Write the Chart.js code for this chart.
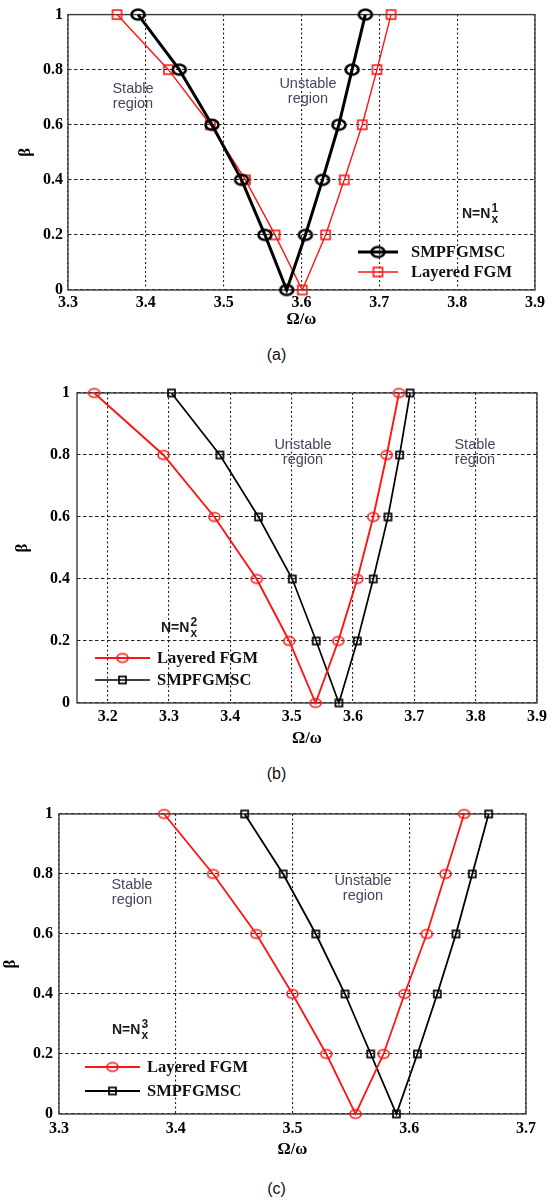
<!DOCTYPE html>
<html>
<head>
<meta charset="utf-8">
<script src="https://cdn.jsdelivr.net/npm/chart.js@4.4.0/dist/chart.umd.min.js"></script>
<style>
  body { margin: 0; background: #fff; width: 553px; height: 1200px; position: relative; overflow: hidden; }
  canvas { position: absolute; left: 0; }
  .caption { position: absolute; left: 0; width: 553px; text-align: center;
             font: 16px "Liberation Sans", Arial, sans-serif; color: #111; line-height: 18px; }
</style>
</head>
<body>
<canvas id="chartA" width="553" height="340" style="top:0px"></canvas>
<div class="caption" style="top:346px">(a)</div>
<canvas id="chartB" width="553" height="380" style="top:370px"></canvas>
<div class="caption" style="top:765px">(b)</div>
<canvas id="chartC" width="553" height="370" style="top:790px"></canvas>
<div class="caption" style="top:1180px">(c)</div>

<script>
// beta along each curve: left branch from 1 down to 0, then right branch back up to 1
const betaPath = [1, 0.8, 0.6, 0.4, 0.2, 0, 0.2, 0.4, 0.6, 0.8, 1];
const yTickLabels = ['0', '0.2', '0.4', '0.6', '0.8', '1'];

// (a) N = Nx^1
const xTickLabelsA = ['3.3', '3.4', '3.5', '3.6', '3.7', '3.8', '3.9'];
const smpA = [3.390, 3.443, 3.485, 3.523, 3.553, 3.581, 3.605, 3.627, 3.648, 3.665, 3.682];
const fgmA = [3.363, 3.429, 3.483, 3.528, 3.566, 3.601, 3.631, 3.655, 3.678, 3.697, 3.715];

// (b) N = Nx^2
const xTickLabelsB = ['3.2', '3.3', '3.4', '3.5', '3.6', '3.7', '3.8', '3.9'];
const fgmB = [3.178, 3.291, 3.374, 3.443, 3.496, 3.539, 3.576, 3.607, 3.633, 3.655, 3.675];
const smpB = [3.304, 3.383, 3.446, 3.501, 3.540, 3.577, 3.607, 3.633, 3.657, 3.676, 3.693];

// (c) N = Nx^3
const xTickLabelsC = ['3.3', '3.4', '3.5', '3.6', '3.7'];
const fgmC = [3.390, 3.432, 3.469, 3.500, 3.529, 3.554, 3.578, 3.596, 3.615, 3.631, 3.647];
const smpC = [3.459, 3.492, 3.520, 3.545, 3.567, 3.589, 3.607, 3.624, 3.640, 3.654, 3.668];

const RED = '#ff1414';
const BLACK = '#000000';
const serifBold = '"Liberation Serif", "Times New Roman", serif';
const sans = '"Liberation Sans", Arial, sans-serif';

// hollow markers drawn once into small canvases (the figure is slightly stretched sideways)
function ellipseMarker(w, h, color, lw) {
  const c = document.createElement('canvas');
  c.width = Math.ceil(w + lw + 2); c.height = Math.ceil(h + lw + 2);
  const g = c.getContext('2d');
  g.strokeStyle = color; g.lineWidth = lw;
  g.beginPath();
  g.ellipse(c.width / 2, c.height / 2, w / 2, h / 2, 0, 0, Math.PI * 2);
  g.stroke();
  return c;
}
function squareMarker(s, color, lw) {
  const c = document.createElement('canvas');
  c.width = Math.ceil(s + lw + 2); c.height = c.width;
  const g = c.getContext('2d');
  g.strokeStyle = color; g.lineWidth = lw;
  const o = (c.width - s) / 2;
  g.strokeRect(o, o, s, s);
  return c;
}

function overlay(p) {
  return {
    id: 'overlay',
    beforeDatasetsDraw(chart) {
      const { ctx, chartArea: a } = chart;
      ctx.save();
      ctx.strokeStyle = '#3c3c3c';
      ctx.lineWidth = 1.4;
      ctx.strokeRect(a.left, a.top, a.right - a.left, a.bottom - a.top);
      ctx.restore();
    },
    afterDatasetsDraw(chart) {
      const ctx = chart.ctx;
      ctx.save();
      ctx.textBaseline = 'middle';

      // region labels
      ctx.fillStyle = '#45455f';
      ctx.font = '14.5px ' + sans;
      ctx.textAlign = 'center';
      p.notes.forEach(n => {
        ctx.fillText(n.lines[0], n.x, n.y);
        ctx.fillText(n.lines[1], n.x, n.y + 15);
      });

      // N = Nx^k
      const nl = p.nLabel;
      ctx.textAlign = 'left';
      ctx.fillStyle = '#1a1a1a';
      ctx.font = 'bold 14px ' + sans;
      ctx.fillText('N=N', nl.x, nl.y);
      const w = ctx.measureText('N=N').width;
      ctx.font = 'bold 12px ' + sans;
      ctx.fillText(nl.k, nl.x + w + 1, nl.y - 5);
      ctx.fillText('x', nl.x + w + 1, nl.y + 6);

      // legend, no box
      const lg = p.legend;
      lg.order.forEach((di, i) => {
        const ds = chart.data.datasets[di];
        const y = lg.y + i * lg.gap;
        ctx.strokeStyle = ds.borderColor;
        ctx.lineWidth = ds.borderWidth;
        ctx.beginPath();
        ctx.moveTo(lg.x0, y);
        ctx.lineTo(lg.x1, y);
        ctx.stroke();
        const m = ds.pointStyle;
        ctx.drawImage(m, (lg.x0 + lg.x1) / 2 - m.width / 2, y - m.height / 2);
        ctx.fillStyle = '#111';
        ctx.font = 'bold 16.5px ' + serifBold;
        ctx.fillText(ds.label, lg.tx, y + 1);
      });
      ctx.restore();
    }
  };
}

function buildChart(id, p) {
  return new Chart(document.getElementById(id), {
    type: 'scatter',
    data: {
      datasets: p.series.map(s => ({
        label: s.label,
        data: s.values.map((x, i) => ({ x: x, y: betaPath[i] })),
        showLine: true,
        borderColor: s.color,
        backgroundColor: 'transparent',
        borderWidth: s.width,
        pointStyle: s.marker,
        pointRadius: 5,
        pointHoverRadius: 5,
        tension: 0,
        clip: false
      }))
    },
    options: {
      responsive: false,
      animation: false,
      events: [],
      layout: { padding: p.padding },
      plugins: { legend: { display: false }, tooltip: { enabled: false } },
      scales: {
        x: {
          type: 'linear',
          min: p.xMin,
          max: p.xMax,
          afterBuildTicks: sc => { sc.ticks = p.xTicks.map(t => ({ value: parseFloat(t) })); },
          afterFit: sc => { sc.height = p.xAxisH; },
          grid: { color: '#1e1e1e', lineWidth: 1.1, drawTicks: false },
          border: { display: false, dash: [2, 2.5] },
          ticks: {
            autoSkip: false, maxRotation: 0, color: '#000', padding: p.xTickPad,
            font: { family: serifBold, weight: 'bold', size: 16 },
            callback: (v, i) => p.xTicks[i]
          },
          title: {
            display: true, text: 'Ω/ω', color: '#000',
            font: { family: serifBold, weight: 'bold', size: 16.5 },
            padding: { top: 0, bottom: p.xTitlePad }
          }
        },
        y: {
          type: 'linear',
          min: 0,
          max: 1,
          afterBuildTicks: sc => { sc.ticks = yTickLabels.map(t => ({ value: parseFloat(t) })); },
          afterFit: sc => { sc.width = p.yAxisW; },
          grid: { color: '#1e1e1e', lineWidth: 1.1, drawTicks: false },
          border: { display: false, dash: [3.5, 2.5] },
          ticks: {
            autoSkip: false, color: '#000', padding: p.yTickPad,
            font: { family: serifBold, weight: 'bold', size: 16 },
            callback: (v, i) => yTickLabels[i]
          },
          title: {
            display: true, text: 'β', color: '#000',
            font: { family: serifBold, weight: 'bold', size: 17 },
            padding: { top: p.yTitlePad, bottom: 0 }
          }
        }
      }
    },
    plugins: [overlay(p)]
  });
}

// (a)
buildChart('chartA', {
  xMin: 3.3, xMax: 3.9, xTicks: xTickLabelsA,
  padding: { left: 0, right: 18, top: 11, bottom: 0 },
  yAxisW: 68, xAxisH: 50, xTickPad: 3, yTickPad: 5, xTitlePad: 10, yTitlePad: 15,
  series: [
    { label: 'SMPFGMSC', values: smpA, color: BLACK, width: 3, marker: ellipseMarker(13, 10, BLACK, 2.6) },
    { label: 'Layered FGM', values: fgmA, color: RED, width: 1.4, marker: squareMarker(9, RED, 1.6) }
  ],
  notes: [
    { lines: ['Stable', 'region'], x: 133, y: 89 },
    { lines: ['Unstable', 'region'], x: 308, y: 84 }
  ],
  nLabel: { x: 462, y: 214, k: '1' },
  legend: { order: [0, 1], x0: 358, x1: 398, tx: 411, y: 252, gap: 20 }
});

// (b)
buildChart('chartB', {
  xMin: 3.15, xMax: 3.9, xTicks: xTickLabelsB,
  padding: { left: 0, right: 16, top: 23, bottom: 0 },
  yAxisW: 77, xAxisH: 47, xTickPad: 4, yTickPad: 7, xTitlePad: 1, yTitlePad: 12,
  series: [
    { label: 'Layered FGM', values: fgmB, color: RED, width: 1.9, marker: ellipseMarker(11, 8.5, RED, 1.6) },
    { label: 'SMPFGMSC', values: smpB, color: BLACK, width: 1.7, marker: squareMarker(7, BLACK, 1.7) }
  ],
  notes: [
    { lines: ['Unstable', 'region'], x: 303, y: 75 },
    { lines: ['Stable', 'region'], x: 475, y: 75 }
  ],
  nLabel: { x: 161, y: 258, k: '2' },
  legend: { order: [0, 1], x0: 95, x1: 150, tx: 157, y: 288, gap: 22 }
});

// (c)
buildChart('chartC', {
  xMin: 3.3, xMax: 3.7, xTicks: xTickLabelsC,
  padding: { left: 0, right: 27, top: 24, bottom: 0 },
  yAxisW: 59, xAxisH: 46, xTickPad: 5, yTickPad: 6, xTitlePad: 0, yTitlePad: 0,
  series: [
    { label: 'Layered FGM', values: fgmC, color: RED, width: 1.8, marker: ellipseMarker(11, 8.5, RED, 1.6) },
    { label: 'SMPFGMSC', values: smpC, color: BLACK, width: 1.8, marker: squareMarker(7, BLACK, 1.7) }
  ],
  notes: [
    { lines: ['Stable', 'region'], x: 132, y: 95 },
    { lines: ['Unstable', 'region'], x: 363, y: 91 }
  ],
  nLabel: { x: 112, y: 240, k: '3' },
  legend: { order: [0, 1], x0: 85, x1: 140, tx: 147, y: 277, gap: 24 }
});
</script>
</body>
</html>
